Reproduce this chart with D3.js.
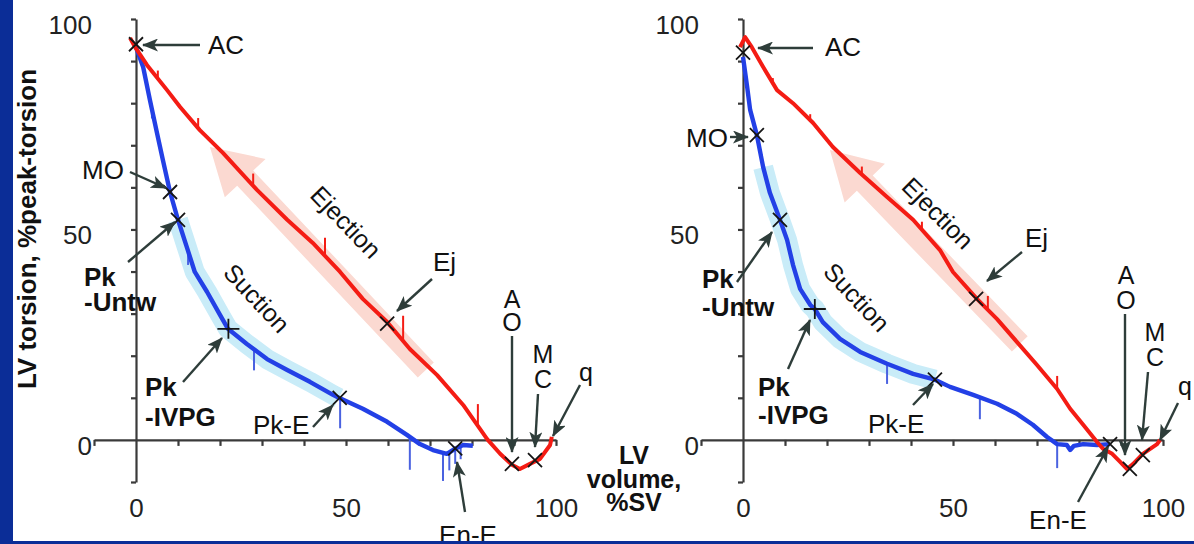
<!DOCTYPE html>
<html><head><meta charset="utf-8">
<script src="https://cdn.jsdelivr.net/npm/d3@7"></script>
<style>body{margin:0;background:#fff;}svg{display:block;font-family:"Liberation Sans",Arial,sans-serif;}</style>
</head><body><svg id="c" width="1194" height="544"></svg>
<script>
// ---------- DATA ----------
const volTickLabels = [0, 50, 100];
const torTickLabels = [0, 50, 100];
const minorTicks = [-10, 0, 10, 20, 30, 40, 50, 60, 70, 80, 90, 100];

// [volume %SV, torsion %peak]
const leftEjection = [[99.0,0.7],[98.6,-1.2],[96.2,-4.5],[93.8,-5.7],[91.4,-6.9],[89.5,-5.9],[86.7,-3.3],[83.6,0.2],[81.9,2.6],[77.9,8.3],[71.7,15.4],[65.2,21.6],[59.8,28.0],[54.0,33.5],[48.6,39.9],[42.1,46.8],[36.0,52.3],[28.8,59.4],[20.7,68.2],[15.2,73.6],[10.5,79.1],[7.4,83.1],[2.6,89.1],[-0.2,93.3],[-1.4,95.5]];
const leftSuction = [[-0.2,93.8],[1.7,88.6],[3.3,80.8],[5.0,72.9],[6.4,66.5],[8.1,58.9],[10.0,52.3],[12.1,45.8],[14.0,39.9],[16.9,35.2],[20.0,29.7],[21.9,26.4],[26.4,22.8],[31.2,19.2],[36.0,16.6],[41.4,13.8],[46.9,10.7],[48.3,10.0],[54.0,7.4],[59.8,4.3],[64.5,1.2],[67.6,-1.0],[70.7,-2.4],[74.0,-3.3],[76.0,-2.1],[77.9,-1.2],[80.2,-1.4]];
const rightEjection = [[99.3,0],[98.6,-1.0],[95.2,-3.3],[92.9,-5.7],[91.4,-6.9],[89.8,-5.2],[87.9,-3.3],[85.7,-2.1],[84.3,-0.5],[81.0,3.6],[77.9,7.4],[74.8,12.1],[70.0,17.8],[65.2,23.3],[60.5,28.7],[55.7,33.5],[50.0,39.9],[46.9,45.1],[40.5,52.3],[34.3,57.7],[27.9,63.4],[21.4,69.6],[16.7,75.3],[11.9,80.0],[8.1,83.1],[4.8,88.6],[2.1,93.3],[0.5,95.7],[-0.7,93.3]];
const rightSuction = [[0,91.0],[1.0,83.8],[1.7,78.4],[3.3,72.4],[4.8,64.8],[6.4,58.7],[8.8,52.3],[10.5,47.5],[11.9,41.6],[13.6,35.9],[16.0,32.1],[17.1,31.1],[19.0,28.0],[23.1,24.0],[27.9,20.9],[34.3,18.1],[40.5,15.7],[45.7,14.3],[49.3,12.6],[54.8,10.7],[60.5,8.6],[65.2,6.2],[69.0,3.6],[72.4,0.7],[74.8,-1.0],[77.1,-1.2],[77.9,-2.4],[78.8,-1.4],[81.0,-1.0],[84.3,-1.2],[87.4,-1.0]];

// events: [name, volume, torsion, symbol]
const leftEvents = [["AC",0,94,"x"],["MO",8.1,58.9,"x"],["Pk-Untw",10,52.3,"x"],["Pk-IVPG",22,26.4,"+"],["Pk-E",48.5,10,"x"],["En-E",76,-2,"x"],["Ej",59.8,27.6,"x"],["AO",89.5,-5.7,"x"],["MC",95,-4.8,"x"]];
const rightEvents = [["AC",0,92,"x"],["MO",3.3,72.4,"x"],["Pk-Untw",8.8,52.3,"x"],["Pk-IVPG",17.1,31.1,"+"],["Pk-E",45.7,14.3,"x"],["En-E",87.4,-1,"x"],["Ej",55.5,33.5,"x"],["AO",92.1,-6.9,"x"],["MC",95.2,-3.6,"x"]];

// time markers: [volume, length in torsion units]
const leftRedTicks = [[5.2,1.9],[14.8,2.4],[27.9,2.9],[45,4.3],[63.6,6.0],[81.4,5.2]];
const leftBlueTicks = [[3.8,2.1],[12.4,3.3],[28.1,5.0],[48.6,7.1],[65.2,7.8],[73.1,6.7],[74.6,4.3],[76.0,3.6],[77.3,3.1]];
const rightRedTicks = [[7.1,1.2],[16,1.4],[28.3,1.9],[42.6,1.9],[58.3,3.3],[74.8,3.1]];
const rightBlueTicks = [[34.3,4.8],[56.4,5.2],[74.8,5.7]];

// highlighted phases (volume ranges) and ejection direction arrows [tip, base, end]
const leftSuctionBand = [8.5, 48.5];
const rightSuctionBand = [3.5, 45.7];
const leftEjectArrow = [[17.6,69.6],[26.0,62.2],[69.0,16.6]];
const rightEjectArrow = [[20.7,68.9],[29.0,61.0],[65.9,22.8]];

// ---------- LAYOUT (pixel offsets from panel origin) ----------
const leftNotes = {
  labels: [["AC",72,-395,"start",0],["MO",-12,-270,"end",0],["Pk",-52,-163,"start",1],["-Untw",-52,-138,"start",1],
    ["Pk",9,-53,"start",1],["-IVPG",9,-23,"start",1],["Pk-E",117,-15,"start",0],["Ej",297,-178,"start",0],
    ["A",376,-141,"middle",0],["O",376,-118,"middle",0],["M",407,-86,"middle",0],["C",407,-61,"middle",0],
    ["q",450,-68,"middle",0],["En-E",332,95,"middle",0]],
  arrows: [[64,-395,7,-395],[-6,-268,30,-252],[-8,-178,39,-218],[47,-58,86,-102],[177,-13,197,-35],[296,-161,261,-129],
    [376,-104,376,12],[402,-46,399,7],[444,-55,417,-4],[329,72,321,22]],
  rotated: [["Ejection",210,-218,46],["Suction",121,-142,47]]
};
const rightNotes = {
  labels: [["AC",82,-393,"start",0],["MO",-15,-302,"end",0],["Pk",-41,-161,"start",1],["-Untw",-41,-133,"start",1],
    ["Pk",15,-53,"start",1],["-IVPG",15,-25,"start",1],["Pk-E",125,-16,"start",0],["Ej",282,-202,"start",0],
    ["A",383,-165,"middle",0],["O",383,-140,"middle",0],["M",412,-108,"middle",0],["C",412,-83,"middle",0],
    ["q",442,-54,"middle",0],["En-E",315,80,"middle",0]],
  arrows: [[70,-392,15,-392],[-13,-303,5,-303],[-6,-158,29,-208],[45,-71,67,-120],[170,-35,190,-56],[279,-188,244,-159],
    [382,-126,382,15],[405,-68,399,0],[435,-37,417,0],[335,62,365,7]],
  rotated: [["Ejection",195,-227,45],["Suction",114,-143,47]]
};

// ---------- DRAW ----------
const svg = d3.select("#c");
svg.append("rect").attr("width",1194).attr("height",544).attr("fill","#fff");
const defs = svg.append("defs");
defs.append("marker").attr("id","ah").attr("viewBox","0 0 16 13").attr("refX",15).attr("refY",6.5)
  .attr("markerWidth",16).attr("markerHeight",13).attr("markerUnits","userSpaceOnUse").attr("orient","auto")
  .append("path").attr("d","M0,0 L16,6.5 L0,13 L4,6.5 Z").attr("fill","#2e3d3a");

const AX="#3a3a3a", RED="#f41c14", BLUE="#2340e6", ARR="#2e3d3a";
const Y0 = 440;

function valAt(series, v){
  const s = series.slice().sort((a,b)=>a[0]-b[0]);
  for(let i=0;i<s.length-1;i++){
    if(v>=s[i][0] && v<=s[i+1][0]){
      const f=(v-s[i][0])/((s[i+1][0]-s[i][0])||1);
      return s[i][1]+f*(s[i+1][1]-s[i][1]);
    }
  }
  return s[s.length-1][1];
}

const panels = [
  {x0:136, ej:leftEjection, su:leftSuction, ev:leftEvents, band:leftSuctionBand, arrow:leftEjectArrow, rt:leftRedTicks, bt:leftBlueTicks, notes:leftNotes},
  {x0:743, ej:rightEjection, su:rightSuction, ev:rightEvents, band:rightSuctionBand, arrow:rightEjectArrow, rt:rightRedTicks, bt:rightBlueTicks, notes:rightNotes}
];

panels.forEach(p=>{
  const x = d3.scaleLinear().domain([-10,100]).range([p.x0-42, p.x0+420]);
  const y = d3.scaleLinear().domain([-10,100]).range([482, 19]);
  const g = svg.append("g");
  const line = d3.line().x(d=>x(d[0])).y(d=>y(d[1]));

  // pink ejection arrow band
  const T=[x(p.arrow[0][0]),y(p.arrow[0][1])], B=[x(p.arrow[1][0]),y(p.arrow[1][1])], E=[x(p.arrow[2][0]),y(p.arrow[2][1])];
  let dx=B[0]-E[0], dy=B[1]-E[1]; const L=Math.hypot(dx,dy); dx/=L; dy/=L;
  const nx=-dy, ny=dx, w=11, hw=28;
  const poly=[[E[0]+nx*w,E[1]+ny*w],[B[0]+nx*w,B[1]+ny*w],[B[0]+nx*hw,B[1]+ny*hw],T,[B[0]-nx*hw,B[1]-ny*hw],[B[0]-nx*w,B[1]-ny*w],[E[0]-nx*w,E[1]-ny*w]];
  g.append("polygon").attr("points",poly.map(q=>q.join(",")).join(" ")).attr("fill","#fbd9d1");

  // light-blue suction band
  const bandPts = p.su.filter(d=>d[0]>=p.band[0] && d[0]<=p.band[1]);
  g.append("path").attr("d",line(bandPts)).attr("fill","none").attr("stroke","#c9ecf8").attr("stroke-width",20).attr("stroke-linejoin","round");

  // axes
  const ya = d3.axisLeft(y).tickValues(minorTicks).tickSize(5).tickSizeOuter(0).tickFormat("");
  const gy = g.append("g").attr("transform",`translate(${x(0)},0)`).call(ya);
  const xa = d3.axisBottom(x).tickValues(minorTicks).tickSize(6).tickSizeOuter(0).tickFormat("");
  const gx = g.append("g").attr("transform",`translate(0,${y(0)})`).call(xa);
  [gy,gx].forEach(a=>{a.selectAll("path,line").attr("stroke",AX).attr("stroke-width",2.2);});
  gx.selectAll(".tick").filter(d=>d===0).remove();
  gy.selectAll(".tick").filter(d=>d===0).remove();

  const yl = d3.axisLeft(y).tickValues(torTickLabels).tickSize(0).tickPadding(44).tickFormat(d3.format("d"));
  const gyl = g.append("g").attr("transform",`translate(${x(0)},0)`).call(yl);
  gyl.select(".domain").remove();
  gyl.selectAll("text").attr("font-size",26).attr("fill","#222").attr("dy","0.55em").attr("font-family","Liberation Sans, Arial, sans-serif");
  const xl = d3.axisBottom(x).tickValues(volTickLabels).tickSize(0).tickPadding(59).tickFormat(d3.format("d"));
  const gxl = g.append("g").attr("transform",`translate(0,${y(0)})`).call(xl);
  gxl.select(".domain").remove();
  gxl.selectAll("text").attr("font-size",26).attr("fill","#222").attr("font-family","Liberation Sans, Arial, sans-serif");

  // time markers
  p.rt.forEach(d=>{ const b=valAt(p.ej,d[0]);
    g.append("line").attr("x1",x(d[0])).attr("x2",x(d[0])).attr("y1",y(b)).attr("y2",y(b+d[1])).attr("stroke",RED).attr("stroke-width",2); });
  p.bt.forEach(d=>{ const b=valAt(p.su,d[0]);
    g.append("line").attr("x1",x(d[0])).attr("x2",x(d[0])).attr("y1",y(b)).attr("y2",y(b-d[1])).attr("stroke","#4a62e0").attr("stroke-width",2); });

  // curves
  g.append("path").attr("d",line(p.su)).attr("fill","none").attr("stroke",BLUE).attr("stroke-width",4.4).attr("stroke-linejoin","round");
  g.append("path").attr("d",line(p.ej)).attr("fill","none").attr("stroke",RED).attr("stroke-width",4).attr("stroke-linejoin","round");

  // event markers
  p.ev.forEach(e=>{
    const cx=x(e[1]), cy=y(e[2]);
    const d = e[3]==="+" ? `M${cx-11},${cy} L${cx+11},${cy} M${cx},${cy-10} L${cx},${cy+10}`
                         : `M${cx-7},${cy-7} L${cx+7},${cy+7} M${cx-7},${cy+7} L${cx+7},${cy-7}`;
    g.append("path").attr("d",d).attr("stroke","#151515").attr("stroke-width",1.8).attr("fill","none");
  });

  // annotation arrows
  p.notes.arrows.forEach(a=>{
    g.append("line").attr("x1",p.x0+a[0]).attr("y1",Y0+a[1]).attr("x2",p.x0+a[2]).attr("y2",Y0+a[3])
      .attr("stroke",ARR).attr("stroke-width",2.4).attr("marker-end","url(#ah)");
  });
  // labels
  p.notes.labels.forEach(l=>{
    g.append("text").attr("x",p.x0+l[1]).attr("y",Y0+l[2]).attr("text-anchor",l[3]).attr("dominant-baseline","central")
      .attr("font-size",l[0].length===1?25:26).attr("font-weight",l[4]?"bold":"normal").attr("fill","#111").text(l[0]);
  });
  p.notes.rotated.forEach(r=>{
    g.append("text").attr("transform",`translate(${p.x0+r[1]},${Y0+r[2]}) rotate(${r[3]})`).attr("text-anchor","middle")
      .attr("dominant-baseline","central").attr("font-size",25).attr("fill","#111").text(r[0]);
  });
});

// axis titles
svg.append("text").attr("transform","translate(27,229) rotate(-90)").attr("text-anchor","middle").attr("dominant-baseline","central")
  .attr("font-size",26).attr("font-weight","bold").attr("fill","#111").text("LV torsion, %peak-torsion");
const xt = svg.append("text").attr("text-anchor","middle").attr("font-size",25).attr("font-weight","bold").attr("fill","#111");
[["LV",455],["volume,",479],["%SV",502]].forEach(t=>{
  xt.append("tspan").attr("x",634).attr("y",t[1]).attr("dominant-baseline","central").text(t[0]);
});

// frame
svg.append("rect").attr("x",0).attr("y",0).attr("width",13).attr("height",544).attr("fill","#0b2d97");
svg.append("rect").attr("x",0).attr("y",541).attr("width",1194).attr("height",3).attr("fill","#0b2d97");
</script></body></html>
